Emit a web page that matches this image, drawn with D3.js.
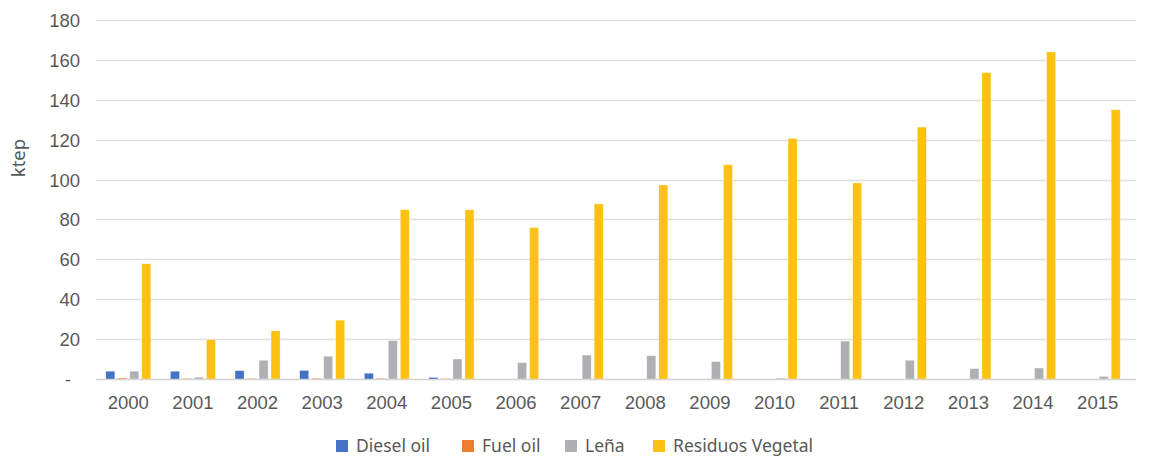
<!DOCTYPE html>
<html>
<head>
<meta charset="utf-8">
<script src="https://cdn.jsdelivr.net/npm/d3@7"></script>
<style>
  body { margin: 0; background: #fff; }
  svg { display: block; font-family: "Noto Sans", "Open Sans", sans-serif; }
</style>
</head>
<body>
<div id="chart"></div>
<script>
// Datos (ktep)
const years = ["2000", "2001", "2002", "2003", "2004", "2005", "2006", "2007",
               "2008", "2009", "2010", "2011", "2012", "2013", "2014", "2015"];
const seriesNames = ["Diesel oil", "Fuel oil", "Leña", "Residuos Vegetal"];
const seriesColors = ["#4472c4", "#ed7d31", "#afb0b4", "#fcc112"];
const dieselOil = [3.9, 3.9, 4.2, 4.3, 2.9, 0.8, 0, 0, 0, 0, 0, 0, 0, 0, 0, 0];
const fuelOil   = [0.5, 0.3, 0.3, 0.4, 0.4, 0.3, 0, 0, 0, 0, 0, 0, 0, 0, 0, 0];
const lena      = [3.9, 0.9, 9.4, 11.4, 19.2, 10, 8.2, 12, 11.7, 8.7, 0.5, 19, 9.4, 5.2, 5.5, 1.3];
const residuos  = [57.8, 19.7, 24.1, 29.5, 84.9, 84.8, 75.9, 87.8, 97.3, 107.4, 120.6, 98.3, 126.3, 153.6, 164, 135];
const yTicks = [0, 20, 40, 60, 80, 100, 120, 140, 160, 180];

const allSeries = [dieselOil, fuelOil, lena, residuos];

const width = 1149, height = 457;
const margin = { left: 96, right: 13, top: 20, bottom: 78 };

const svg = d3.select("#chart").append("svg")
    .attr("width", width)
    .attr("height", height);

const y = d3.scaleLinear()
    .domain([0, 180])
    .range([height - margin.bottom, margin.top]);

const x0 = d3.scaleBand()
    .domain(years)
    .range([margin.left, 1130])
    .padding(0);

const x1 = d3.scaleBand()
    .domain(seriesNames)
    .range([0, 45])
    .paddingInner(0.25);

// lineas de grilla
svg.append("g")
    .selectAll("line")
    .data(yTicks)
    .enter().append("line")
    .attr("x1", margin.left)
    .attr("x2", width - margin.right)
    .attr("y1", d => Math.round(y(d)) + 0.5)
    .attr("y2", d => Math.round(y(d)) + 0.5)
    .attr("stroke", d => d === 0 ? "#d0d0d0" : "#dedede")
    .attr("stroke-width", 1.3);

// eje y
const yAxis = d3.axisLeft(y)
    .tickValues(yTicks)
    .tickSize(0)
    .tickPadding(0)
    .tickFormat(d => d === 0 ? "-" : d);

const gy = svg.append("g")
    .attr("transform", `translate(80,0)`)
    .call(yAxis);
gy.select(".domain").remove();
gy.selectAll("text")
    .attr("fill", "#595959")
    .style("font-size", "18.5px")
    .attr("dy", "0.35em");
gy.selectAll("text").filter(d => d === 0).attr("dx", "-9px");

svg.append("text")
    .attr("transform", `translate(25,158) rotate(-90)`)
    .attr("text-anchor", "middle")
    .attr("fill", "#595959")
    .style("font-size", "18.5px")
    .text("ktep");

// barras
const groups = svg.append("g")
    .selectAll("g")
    .data(years)
    .enter().append("g")
    .attr("transform", d => `translate(${x0(d) + x0.bandwidth() / 2 - 22.5},0)`);

groups.selectAll("rect")
    .data((d, i) => seriesNames.map((s, j) => ({ key: s, value: allSeries[j][i], color: seriesColors[j] })))
    .enter().append("rect")
    .filter(d => d.value > 0)
    .attr("x", d => x1(d.key))
    .attr("y", d => y(d.value))
    .attr("width", x1.bandwidth())
    .attr("height", d => y(0) - y(d.value))
    .attr("fill", d => d.color)
    .attr("stroke", "#ffffff")
    .attr("stroke-opacity", 0.5)
    .attr("stroke-width", 0.6);

// eje x
const xAxis = d3.axisBottom(x0).tickSize(0).tickPadding(0);
const gx = svg.append("g")
    .attr("transform", `translate(0,${y(0)})`)
    .call(xAxis);
gx.select(".domain").remove();
gx.selectAll("text")
    .attr("fill", "#595959")
    .style("font-size", "18.5px")
    .attr("dy", "30px");

// leyenda
const legendX = [336, 462, 565, 653];
const legend = svg.append("g")
    .selectAll("g")
    .data(seriesNames)
    .enter().append("g")
    .attr("transform", (d, i) => `translate(${legendX[i]},440)`);

legend.append("rect")
    .attr("width", 12)
    .attr("height", 12)
    .attr("fill", (d, i) => seriesColors[i]);

legend.append("text")
    .attr("x", 20)
    .attr("y", 12)
    .attr("fill", "#595959")
    .style("font-size", "17.5px")
    .text(d => d);
</script>
</body>
</html>
